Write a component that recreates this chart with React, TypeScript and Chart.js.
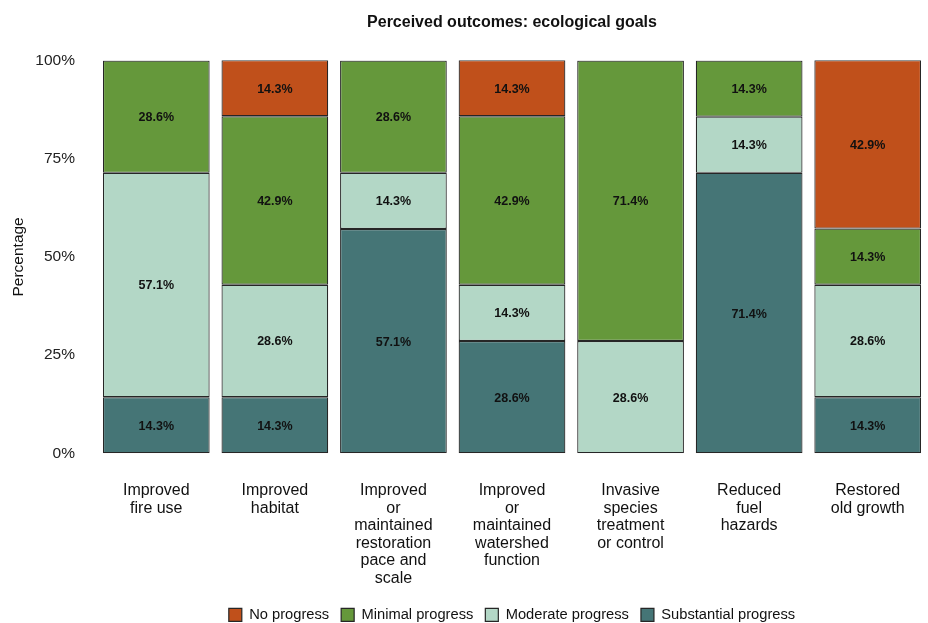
import React, { useEffect, useRef } from "react";
import { Chart, registerables } from "chart.js";

Chart.register(...registerables);

const categories: string[][] = [
  ["Improved", "fire use"],
  ["Improved", "habitat"],
  ["Improved", "or", "maintained", "restoration", "pace and", "scale"],
  ["Improved", "or", "maintained", "watershed", "function"],
  ["Invasive", "species", "treatment", "or control"],
  ["Reduced", "fuel", "hazards"],
  ["Restored", "old growth"],
];

const substantial = [14.3, 14.3, 57.1, 28.6, 0, 71.4, 14.3];
const moderate = [57.1, 28.6, 14.3, 14.3, 28.6, 14.3, 28.6];
const minimal = [28.6, 42.9, 28.6, 42.9, 71.4, 14.3, 14.3];
const noProgress = [0, 14.3, 0, 14.3, 0, 0, 42.9];

const yTicks = [0, 25, 50, 75, 100];

const FONT = "'Liberation Sans', Arial, Helvetica, sans-serif";

const labelPlugin = {
  id: "segLabels",
  afterDatasetsDraw(chart: any) {
    const ctx = chart.ctx;
    ctx.save();
    ctx.font = `bold 12.5px ${FONT}`;
    ctx.fillStyle = "#111111";
    ctx.textAlign = "center";
    ctx.textBaseline = "middle";
    chart.data.datasets.forEach((ds: any, di: number) => {
      const meta = chart.getDatasetMeta(di);
      if (meta.hidden) return;
      meta.data.forEach((el: any, i: number) => {
        const v = ds.data[i];
        if (!v) return;
        const y = (el.y + el.base) / 2;
        ctx.fillText(v.toFixed(1) + "%", el.x, y + 1);
      });
    });
    ctx.restore();
  },
};

export default function App() {
  const ref = useRef<HTMLCanvasElement | null>(null);
  useEffect(() => {
    if (!ref.current) return;
    const border = "#262626";
    const common = { borderColor: border, borderWidth: 1.2, borderSkipped: false as const };
    const chart = new Chart(ref.current, {
      type: "bar",
      data: {
        labels: categories as any,
        datasets: [
          { label: "Substantial progress", data: substantial, backgroundColor: "#457576", ...common },
          { label: "Moderate progress", data: moderate, backgroundColor: "#B3D7C6", ...common },
          { label: "Minimal progress", data: minimal, backgroundColor: "#65983B", ...common },
          { label: "No progress", data: noProgress, backgroundColor: "#C0501B", ...common },
        ],
      },
      options: {
        animation: false,
        responsive: true,
        maintainAspectRatio: false,
        devicePixelRatio: 1,
        layout: { padding: { left: 0, right: 1, top: 0, bottom: -9.25 } },
        datasets: { bar: { barPercentage: 0.9, categoryPercentage: 1 } },
        plugins: {
          tooltip: { enabled: false },
          title: {
            display: true,
            text: "Perceived outcomes: ecological goals",
            fullSize: false,
            color: "#111111",
            font: { family: FONT, size: 16, weight: "bold", lineHeight: 1.2 },
            padding: { top: 13, bottom: 28.3 },
          },
          legend: {
            position: "bottom",
            fullSize: false,
            reverse: true,
            labels: {
              boxWidth: 13,
              boxHeight: 13,
              padding: 12,
              color: "#111111",
              font: { family: FONT, size: 14.7 },
            },
          },
        },
        scales: {
          x: {
            stacked: true,
            grid: { display: false, drawTicks: true, tickLength: 29 },
            border: { display: false },
            ticks: {
              color: "#111111",
              padding: 0,
              maxRotation: 0,
              autoSkip: false,
              font: { family: FONT, size: 16, lineHeight: 1.09 },
            },
            afterFit: (s: any) => {
              s.height = 142.25;
            },
          },
          y: {
            stacked: true,
            min: 0,
            max: 100,
            grid: { display: false, drawTicks: false },
            border: { display: false },
            afterBuildTicks: (s: any) => {
              s.ticks = yTicks.map((v) => ({ value: v }));
            },
            ticks: {
              color: "#222222",
              padding: 22,
              font: { family: FONT, size: 15.5 },
              callback: (v: any) => v + "%",
            },
            title: {
              display: true,
              text: "Percentage",
              color: "#111111",
              font: { family: FONT, size: 15.5, lineHeight: 1.2 },
              padding: { top: 9, bottom: 0 },
            },
            afterFit: (s: any) => {
              s.width = 97;
            },
          },
        },
      },
      plugins: [labelPlugin],
    });
    return () => chart.destroy();
  }, []);
  return (
    <div style={{ position: "absolute", left: 0, top: 0, width: 928, height: 623, background: "#fff" }}>
      <canvas ref={ref} />
    </div>
  );
}
